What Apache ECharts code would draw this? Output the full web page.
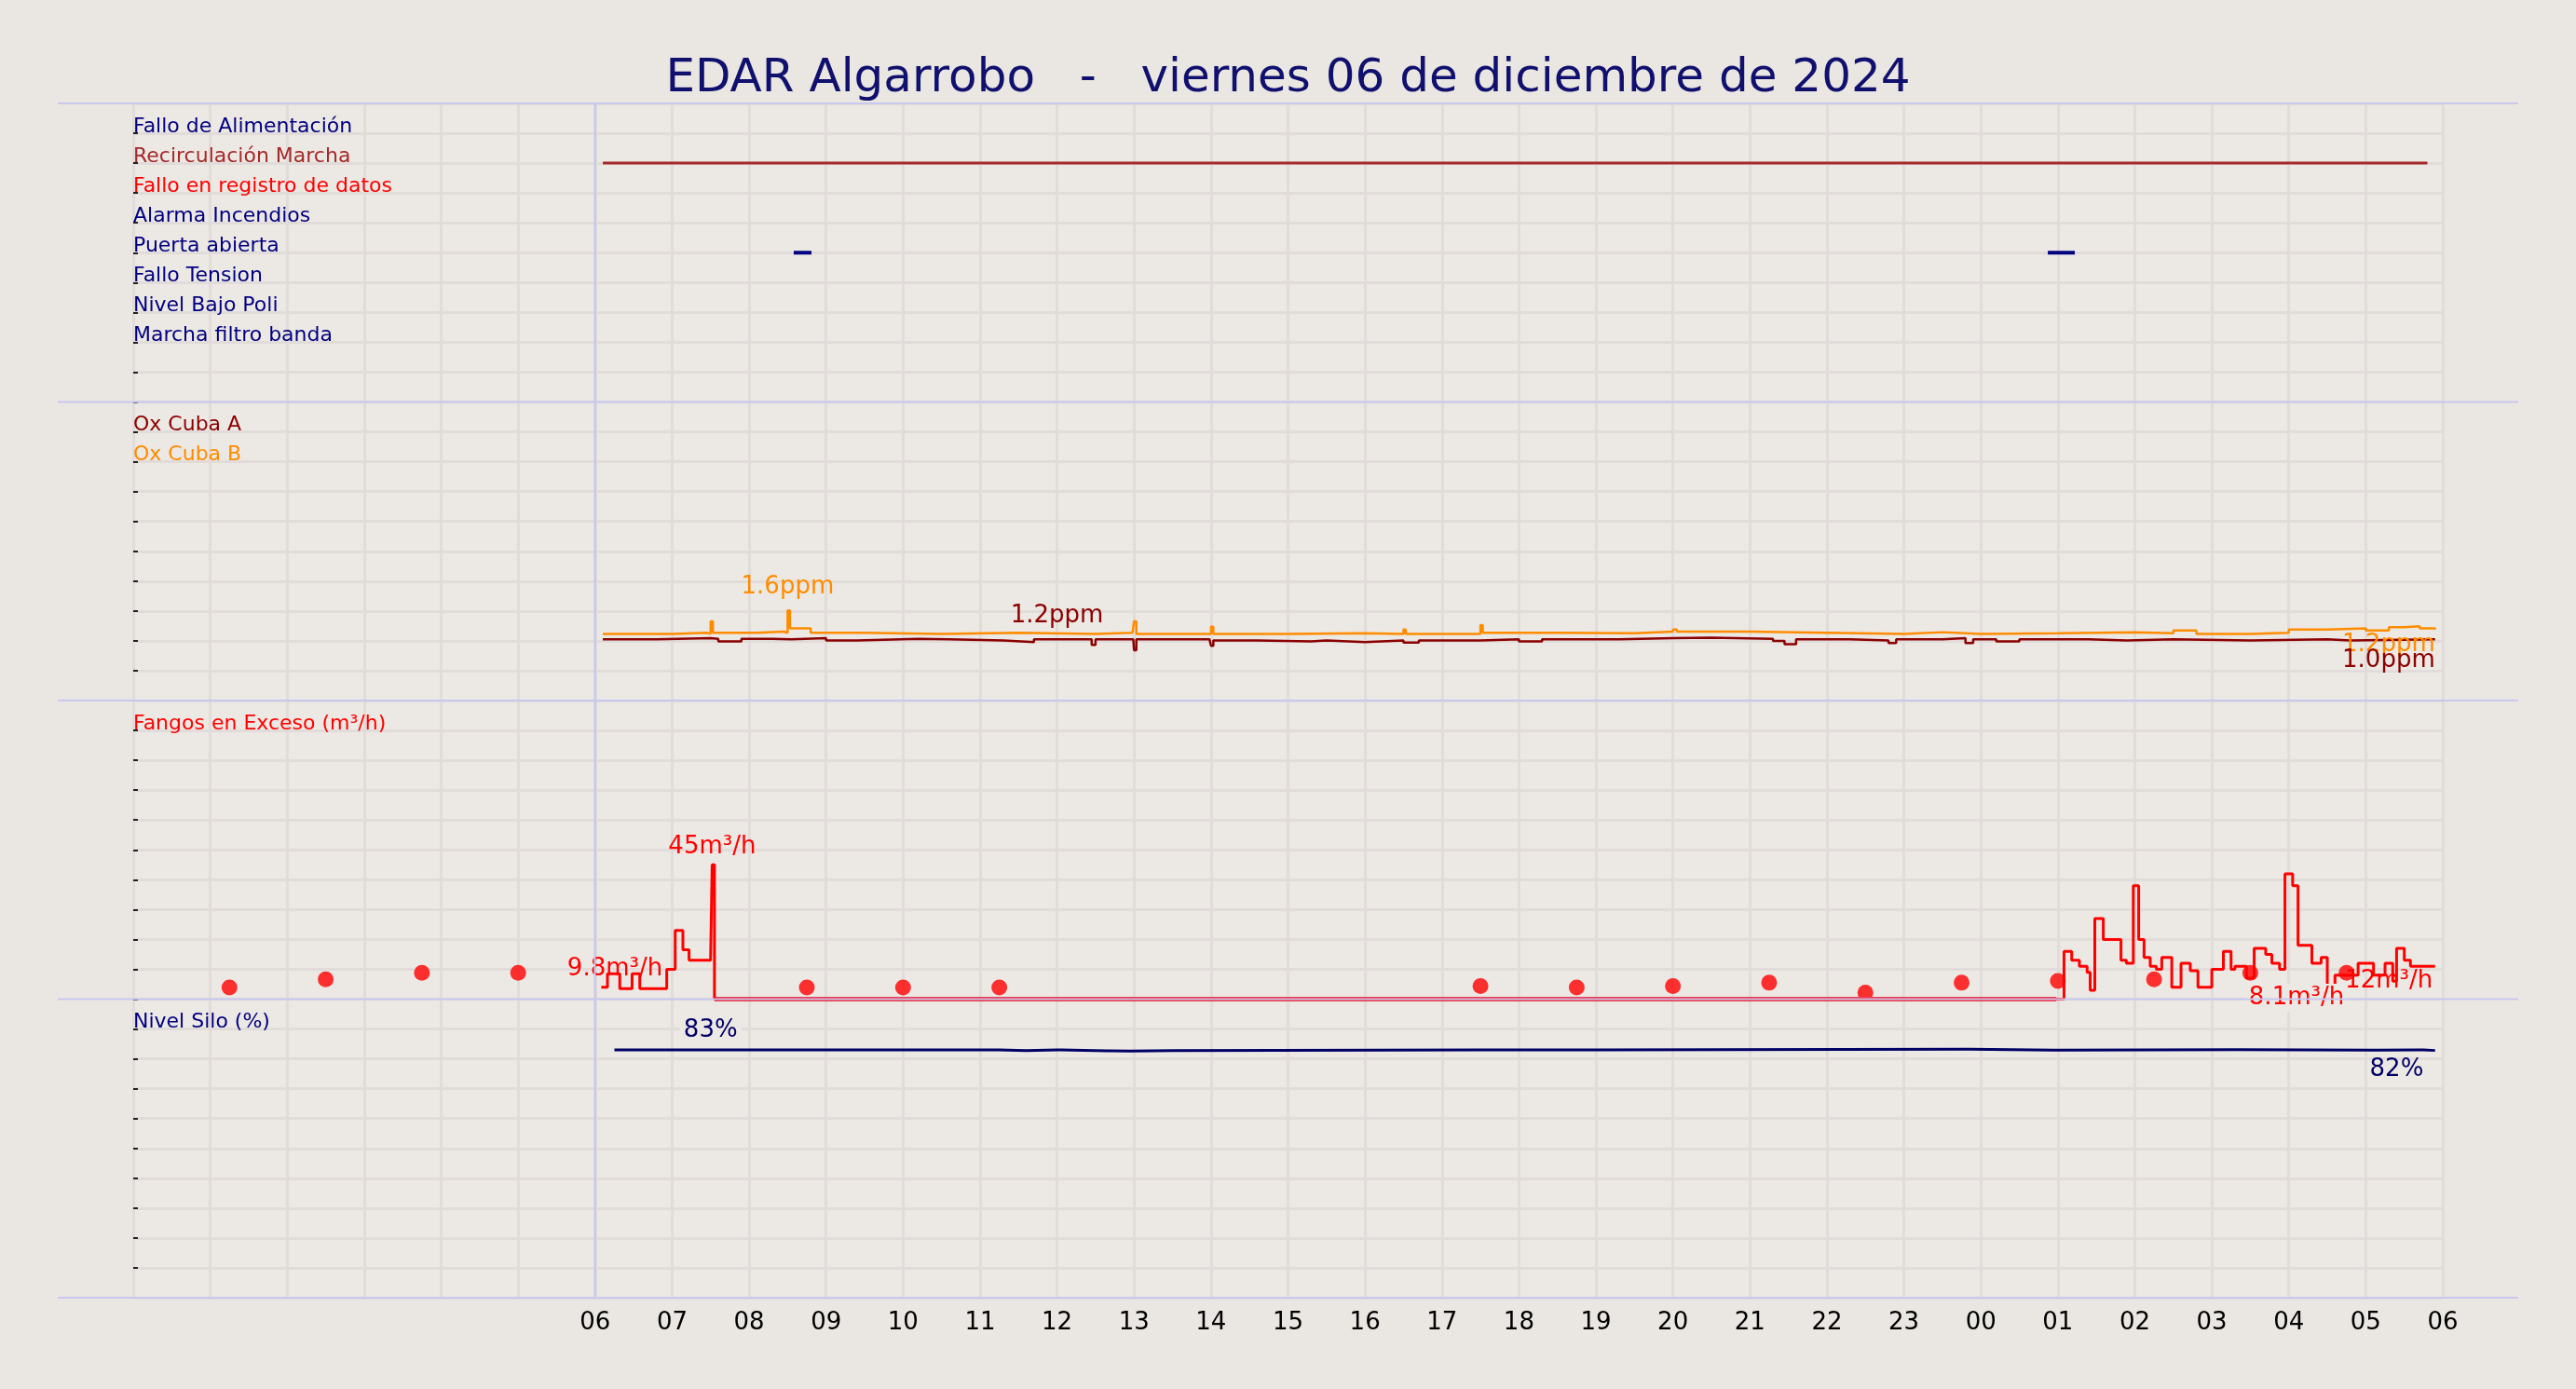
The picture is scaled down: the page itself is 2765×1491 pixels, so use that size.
<!DOCTYPE html>
<html><head><meta charset="utf-8">
<script src="https://cdn.jsdelivr.net/npm/echarts@6/dist/echarts.min.js"></script>
<style>html,body{margin:0;background:#EAE6E1}#c{width:2765px;height:1491px}</style>
</head><body><div id="c"></div>
<script>
const title = 'EDAR Algarrobo   -   viernes 06 de diciembre de 2024';
const eventNames = ['Fallo de Alimentación','Recirculación Marcha','Fallo en registro de datos','Alarma Incendios','Puerta abierta','Fallo Tension','Nivel Bajo Poli','Marcha filtro banda'];
const eventColors = ['#000080','#A52A2A','#FF0000','#000080','#000080','#000080','#000080','#000080'];
const recircOn = [[6.1,2],[29.8,2]];
const puerta1 = [[8.58,5],[8.81,5]];
const puerta2 = [[24.87,5],[25.22,5]];
const oxA = [[6.1,1.12],[6.8,1.14],[7.5,1.13],[7.6,1.08],[7.9,1.13],[8.3,1.12],[8.55,1.14],[9.0,1.1],[9.4,1.13],[10.2,1.12],[10.6,1.1],[11.3,1.07],[11.7,1.12],[12.4,1.12],[12.45,1.02],[12.5,1.12],[12.99,1.12],[13.0,0.92],[13.03,1.12],[13.98,1.12],[14.0,1.0],[14.03,1.1],[14.6,1.08],[15.3,1.1],[15.5,1.07],[16.0,1.1],[16.5,1.06],[16.7,1.1],[17.5,1.12],[18.0,1.08],[18.3,1.12],[19.3,1.14],[20.0,1.15],[20.5,1.13],[21.3,1.09],[21.45,1.03],[21.6,1.12],[22.3,1.1],[22.8,1.05],[22.9,1.12],[23.5,1.14],[23.8,1.05],[23.9,1.12],[24.2,1.08],[24.5,1.12],[25.4,1.1],[25.9,1.12],[26.5,1.1],[27.5,1.12],[28.5,1.1],[28.8,1.12],[29.9,1.12]];
const oxB = [[6.1,1.22],[7.0,1.24],[7.45,1.22],[7.5,1.45],[7.53,1.24],[8.1,1.26],[8.45,1.24],[8.5,1.65],[8.53,1.32],[8.8,1.24],[9.5,1.22],[10.5,1.24],[11.5,1.22],[12.5,1.24],[12.98,1.22],[13.0,1.45],[13.03,1.22],[14.0,1.35],[14.03,1.22],[15.0,1.23],[16.0,1.22],[16.5,1.3],[16.53,1.22],[17.5,1.38],[17.53,1.24],[18.5,1.23],[19.5,1.26],[20.0,1.3],[20.05,1.26],[21.0,1.24],[22.0,1.22],[23.0,1.25],[23.5,1.22],[24.0,1.23],[25.0,1.25],[26.0,1.23],[26.5,1.28],[26.8,1.22],[27.5,1.24],[28.0,1.3],[28.5,1.32],[29.0,1.28],[29.3,1.34],[29.5,1.36],[29.7,1.32],[29.9,1.3]];
const fangos = [[6.08,4],[6.16,8.5],[6.32,3.5],[6.48,8.5],[6.58,3.5],[6.93,10],[7.04,23],[7.14,16.5],[7.22,13],[7.5,14],[7.52,45],[7.55,0],[24.98,0],[25.08,16],[25.18,13],[25.28,11],[25.38,9],[25.42,3],[25.48,27],[25.59,20],[25.82,13],[25.89,12],[25.98,38],[26.05,20],[26.12,14],[26.2,11],[26.28,10],[26.35,14],[26.48,4],[26.6,12],[26.72,9.5],[26.82,4],[27.0,10],[27.15,16],[27.25,10],[27.3,11],[27.45,7],[27.55,17],[27.7,15],[27.78,12],[27.88,10],[27.95,42],[28.05,38],[28.12,18],[28.25,18],[28.3,12],[28.42,14],[28.5,4],[28.6,8],[28.9,12],[29.1,8],[29.25,12],[29.35,6],[29.4,17],[29.5,13],[29.58,11],[29.9,11]];
const fangosZero = [[7.55,0],[24.98,0]];
const fangosDots = [[1.25,3.9],[2.5,6.6],[3.75,8.8],[5.0,8.8],[8.75,3.9],[10.0,3.9],[11.25,3.9],[17.5,4.4],[18.75,3.9],[20.0,4.4],[21.25,5.5],[22.5,2.2],[23.75,5.5],[25.0,6.1],[26.25,6.6],[27.5,8.8],[28.75,8.8]];
const silo = [[6.25,83],[11.2,83],[11.25,82.8],[11.6,83],[12.0,83],[12.05,82.7],[12.65,82.7],[12.7,82.6],[12.95,82.8],[13.5,83],[17.5,83],[19.0,83.2],[23.8,83.2],[23.85,82.9],[24.95,82.9],[25.0,83.1],[27.3,83.1],[27.35,82.9],[29.1,82.9],[29.15,83],[29.7,83],[29.75,82.8],[29.9,82.8]];
const hourTicks = {min:0,max:30,interval:1,firstLabel:6};

const chart = echarts.init(document.getElementById('c'));
const L=143, R=143, H=320.5, tops=[111,431.5,752,1072.5];
const bg='#ECE8E3', gridC='#E1DCDA', sepC='#C8C8F0';
const FS=22, font='DejaVu Sans';
const grids = tops.map(t=>({left:L,right:R,top:t,height:H,show:true,backgroundColor:bg,borderWidth:0}));
const xAxes = tops.map((t,i)=>({type:'value',gridIndex:i,min:hourTicks.min,max:hourTicks.max,interval:hourTicks.interval,
  axisLine:{show:false},axisTick:{show:false},
  splitLine:{show:true,lineStyle:{color:gridC,width:3}},
  axisLabel:{show:i===3,color:'#000',fontSize:26,fontFamily:font,margin:14,
    formatter:v=>v>=hourTicks.firstLabel?String(v%24).padStart(2,'0'):''}}));
const yMax=[10,5.46,100,100];
const yAxes = tops.map((t,i)=>({type:'value',gridIndex:i,min:0,max:yMax[i],interval:yMax[i]/10,inverse:i===0,position:'right',
  axisLine:{show:false},axisLabel:{show:false},
  axisTick:{show:true,length:5,inside:false,lineStyle:{color:'#222',width:2}},
  splitLine:{show:true,lineStyle:{color:gridC,width:3}}}));
const vline = i=>({silent:true,symbol:'none',label:{show:false},lineStyle:{color:sepC,width:2,type:'solid'},data:[{xAxis:6}]});
const lab = (c,extra)=>Object.assign({show:true,color:c,fontSize:26,fontFamily:font},extra||{});
const mp = (coord,label)=>({coord,symbolSize:0,label});
const series = [
  {type:'line',xAxisIndex:0,yAxisIndex:0,data:recircOn,symbol:'none',lineStyle:{color:'#A52A2A',width:3},markLine:vline(0)},
  {type:'line',xAxisIndex:0,yAxisIndex:0,data:puerta1,symbol:'none',lineStyle:{color:'#000080',width:4}},
  {type:'line',xAxisIndex:0,yAxisIndex:0,data:puerta2,symbol:'none',lineStyle:{color:'#000080',width:4}},
  {type:'line',xAxisIndex:1,yAxisIndex:1,data:oxB,step:'end',symbol:'none',lineStyle:{color:'#FF8C00',width:2.5},markLine:vline(1),
    markPoint:{symbol:'circle',data:[mp([8.5,1.65],lab('#FF8C00',{position:'top',distance:12,formatter:'1.6ppm'})),mp([29.9,1.3],lab('#FF8C00',{position:'bottom',align:'right',distance:4,formatter:'1.2ppm'}))]}},
  {type:'line',xAxisIndex:1,yAxisIndex:1,data:oxA,step:'end',symbol:'none',lineStyle:{color:'#8B0000',width:2.5},
    markPoint:{symbol:'circle',data:[mp([12,1.12],lab('#8B0000',{position:'top',distance:12,formatter:'1.2ppm'})),mp([29.9,1.12],lab('#8B0000',{position:'bottom',align:'right',distance:10,formatter:'1.0ppm'}))]}},
  {type:'line',xAxisIndex:2,yAxisIndex:2,data:fangosZero,symbol:'none',lineStyle:{color:'#E8405E',width:5},markLine:vline(2)},
  {type:'line',xAxisIndex:2,yAxisIndex:2,data:fangos,step:'end',symbol:'none',lineStyle:{color:'#FF0000',width:3},
    markPoint:{symbol:'circle',data:[
      mp([7.52,45],lab('#FF0000',{position:'top',distance:6,formatter:'45m³/h'})),
      mp([6.9,10],lab('#FF0000',{position:'left',distance:2,formatter:'9.8m³/h'})),
      mp([28.1,0.5],lab('#FF0000',{position:'inside',backgroundColor:bg,padding:[2,4],formatter:'8.1m³/h'})),
      mp([29.3,6],lab('#FF0000',{position:'inside',formatter:'12m³/h'}))]}},
  {type:'scatter',xAxisIndex:2,yAxisIndex:2,data:fangosDots,symbolSize:17,itemStyle:{color:'#FF0000'}},
  {type:'line',xAxisIndex:3,yAxisIndex:3,data:silo,step:'end',symbol:'none',lineStyle:{color:'#000066',width:3},markLine:vline(3),
    markPoint:{symbol:'circle',data:[
      mp([7.5,83],lab('#000066',{position:'top',distance:6,backgroundColor:bg,padding:[2,4],formatter:'83%'})),
      mp([29.75,82.8],lab('#000066',{position:'bottom',distance:8,align:'right',formatter:'82%'}))]}}
];
const graphic=[];
[tops[0],tops[1],tops[2],tops[3],tops[3]+H].forEach(y=>graphic.push({type:'line',silent:true,z:100,shape:{x1:62,y1:y,x2:2703,y2:y},style:{stroke:sepC,lineWidth:2}}));
graphic.push({type:'line',z:100,shape:{x1:638.5,y1:tops[0],x2:638.5,y2:tops[3]+H},style:{stroke:sepC,lineWidth:2}});
const rowLabel=(panel,row,text,color)=>graphic.push({type:'text',z:200,zlevel:1,x:L,y:tops[panel]+row*H/10+4,style:{text,fill:color,font:FS+'px "DejaVu Sans"',textVerticalAlign:'bottom'}});
eventNames.forEach((n,k)=>rowLabel(0,k+1,n,eventColors[k]));
rowLabel(1,1,'Ox Cuba A','#8B0000');rowLabel(1,2,'Ox Cuba B','#FF8C00');
rowLabel(2,1,'Fangos en Exceso (m³/h)','#FF0000');
rowLabel(3,1,'Nivel Silo (%)','#000080');
chart.setOption({backgroundColor:'#EAE6E1',animation:false,
  title:{text:title,left:'center',top:55,textStyle:{color:'#10106E',fontSize:50,fontWeight:'normal',fontFamily:font}},
  grid:grids,xAxis:xAxes,yAxis:yAxes,series,graphic});
</script></body></html>
